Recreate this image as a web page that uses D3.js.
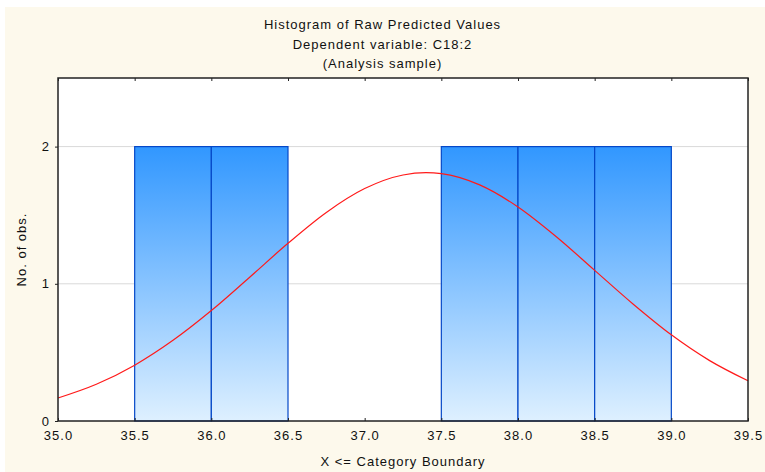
<!DOCTYPE html>
<html>
<head>
<meta charset="utf-8">
<script src="https://cdn.jsdelivr.net/npm/d3@7"></script>
<style>
    html, body { margin: 0; padding: 0; background: #ffffff; }
    svg { display: block; }
    text { font-family: "Liberation Sans", Arial, sans-serif; fill: #111; letter-spacing: 1px; }
</style>
</head>
<body>
<div id="chart"></div>
<script>
// Histogram bins (upper boundaries) and counts
const binEdges = [35.5, 36.0, 36.5, 37.0, 37.5, 38.0, 38.5, 39.0];
const binCounts = [2, 2, 0, 0, 2, 2, 2];

// Fitted normal curve
const curveX = [35.0, 35.25, 35.5, 35.75, 36.0, 36.25, 36.5, 36.75, 37.0, 37.25, 37.4, 37.5, 37.75, 38.0, 38.25, 38.5, 38.75, 39.0, 39.25, 39.5];
const curveY = [0.168, 0.268, 0.407, 0.588, 0.805, 1.048, 1.295, 1.520, 1.694, 1.793, 1.810, 1.803, 1.721, 1.560, 1.343, 1.098, 0.853, 0.628, 0.440, 0.293];

// Axis ticks
const xTicks = [35.0, 35.5, 36.0, 36.5, 37.0, 37.5, 38.0, 38.5, 39.0, 39.5];
const yTicks = [0, 1, 2];

const titleLines = ['Histogram of Raw Predicted Values', 'Dependent variable: C18:2', '(Analysis sample)'];

function drawChart() {
    const W = 765, H = 472;
    const margin = { top: 78, right: 17, bottom: 51, left: 58 };
    const width = W - margin.left - margin.right;
    const height = H - margin.top - margin.bottom;

    const svg = d3.select('#chart').append('svg')
        .attr('width', W)
        .attr('height', H);

    // cream panel with thin white border top/left
    svg.append('rect')
        .attr('x', 5).attr('y', 7)
        .attr('width', W - 5).attr('height', H - 7)
        .attr('fill', '#fdf9ec');

    const x = d3.scaleLinear().domain([35.0, 39.5]).range([0, width]);
    const y = d3.scaleLinear().domain([0, 2.5]).range([height, 0]);

    const defs = svg.append('defs');
    const grad = defs.append('linearGradient')
        .attr('id', 'barGrad')
        .attr('gradientUnits', 'userSpaceOnUse')
        .attr('x1', 0).attr('x2', 0)
        .attr('y1', y(2)).attr('y2', height);
    grad.append('stop').attr('offset', '0%').attr('stop-color', '#3197ff');
    grad.append('stop').attr('offset', '100%').attr('stop-color', '#def0ff');

    const g = svg.append('g')
        .attr('transform', `translate(${margin.left},${margin.top})`);

    g.append('rect')
        .attr('width', width).attr('height', height)
        .attr('fill', '#ffffff');

    // gridlines
    g.selectAll('.grid')
        .data(yTicks.filter(d => d > 0))
        .enter()
        .append('line')
        .attr('x1', 0).attr('x2', width)
        .attr('y1', d => y(d)).attr('y2', d => y(d))
        .attr('stroke', '#d9d9d9')
        .attr('stroke-width', 1);

    // bars
    const bins = binCounts.map((c, i) => ({ x0: binEdges[i], x1: binEdges[i + 1], count: c }))
        .filter(d => d.count > 0);

    g.selectAll('.bar')
        .data(bins)
        .enter()
        .append('rect')
        .attr('class', 'bar')
        .attr('x', d => x(d.x0))
        .attr('y', d => y(d.count))
        .attr('width', d => x(d.x1) - x(d.x0))
        .attr('height', d => y(0) - y(d.count))
        .attr('fill', 'url(#barGrad)')
        .attr('stroke', '#0548c8')
        .attr('stroke-width', 1.2);

    // normal curve
    const pts = curveX.map((v, i) => [v, curveY[i]]);
    const line = d3.line()
        .x(d => x(d[0]))
        .y(d => y(d[1]))
        .curve(d3.curveMonotoneX);

    g.append('path')
        .datum(pts)
        .attr('fill', 'none')
        .attr('stroke', '#ff1a1a')
        .attr('stroke-width', 1.2)
        .attr('d', line);

    // frame
    g.append('rect')
        .attr('width', width).attr('height', height)
        .attr('fill', 'none')
        .attr('stroke', '#222')
        .attr('stroke-width', 1.5);

    // bottom axis
    const xAxis = g.append('g')
        .attr('transform', `translate(0,${height})`)
        .call(d3.axisBottom(x)
            .tickValues(xTicks)
            .tickSize(-3)
            .tickPadding(10)
            .tickFormat(d3.format('.1f')));
    xAxis.select('.domain').remove();
    xAxis.selectAll('line').attr('stroke', '#222');
    xAxis.selectAll('text')
        .style('font-size', '13px')
        .style('font-family', '"Liberation Sans", Arial, sans-serif')
        .attr('fill', '#111');

    // top ticks
    const xTop = g.append('g')
        .call(d3.axisTop(x).tickValues(xTicks).tickSize(-3).tickFormat(''));
    xTop.select('.domain').remove();
    xTop.selectAll('line').attr('stroke', '#222');

    // left axis
    const yAxis = g.append('g')
        .call(d3.axisLeft(y)
            .tickValues(yTicks)
            .tickSize(3)
            .tickPadding(5)
            .tickFormat(d3.format('d')));
    yAxis.select('.domain').remove();
    yAxis.selectAll('line').attr('stroke', '#222');
    yAxis.selectAll('text')
        .style('font-size', '13px')
        .style('font-family', '"Liberation Sans", Arial, sans-serif')
        .attr('fill', '#111');

    // titles (centred on the whole picture)
    svg.selectAll('.title')
        .data(titleLines)
        .enter()
        .append('text')
        .attr('x', W / 2)
        .attr('y', (d, i) => 29 + i * 19.5)
        .style('text-anchor', 'middle')
        .style('font-size', '13px')
        .text(d => d);

    svg.append('text')
        .attr('x', margin.left + width / 2)
        .attr('y', 466)
        .style('text-anchor', 'middle')
        .style('font-size', '13px')
        .text('X <= Category Boundary');

    svg.append('text')
        .attr('transform', `translate(26,${margin.top + height / 2}) rotate(-90)`)
        .style('text-anchor', 'middle')
        .style('font-size', '13px')
        .text('No. of obs.');
}

drawChart();
</script>
</body>
</html>
